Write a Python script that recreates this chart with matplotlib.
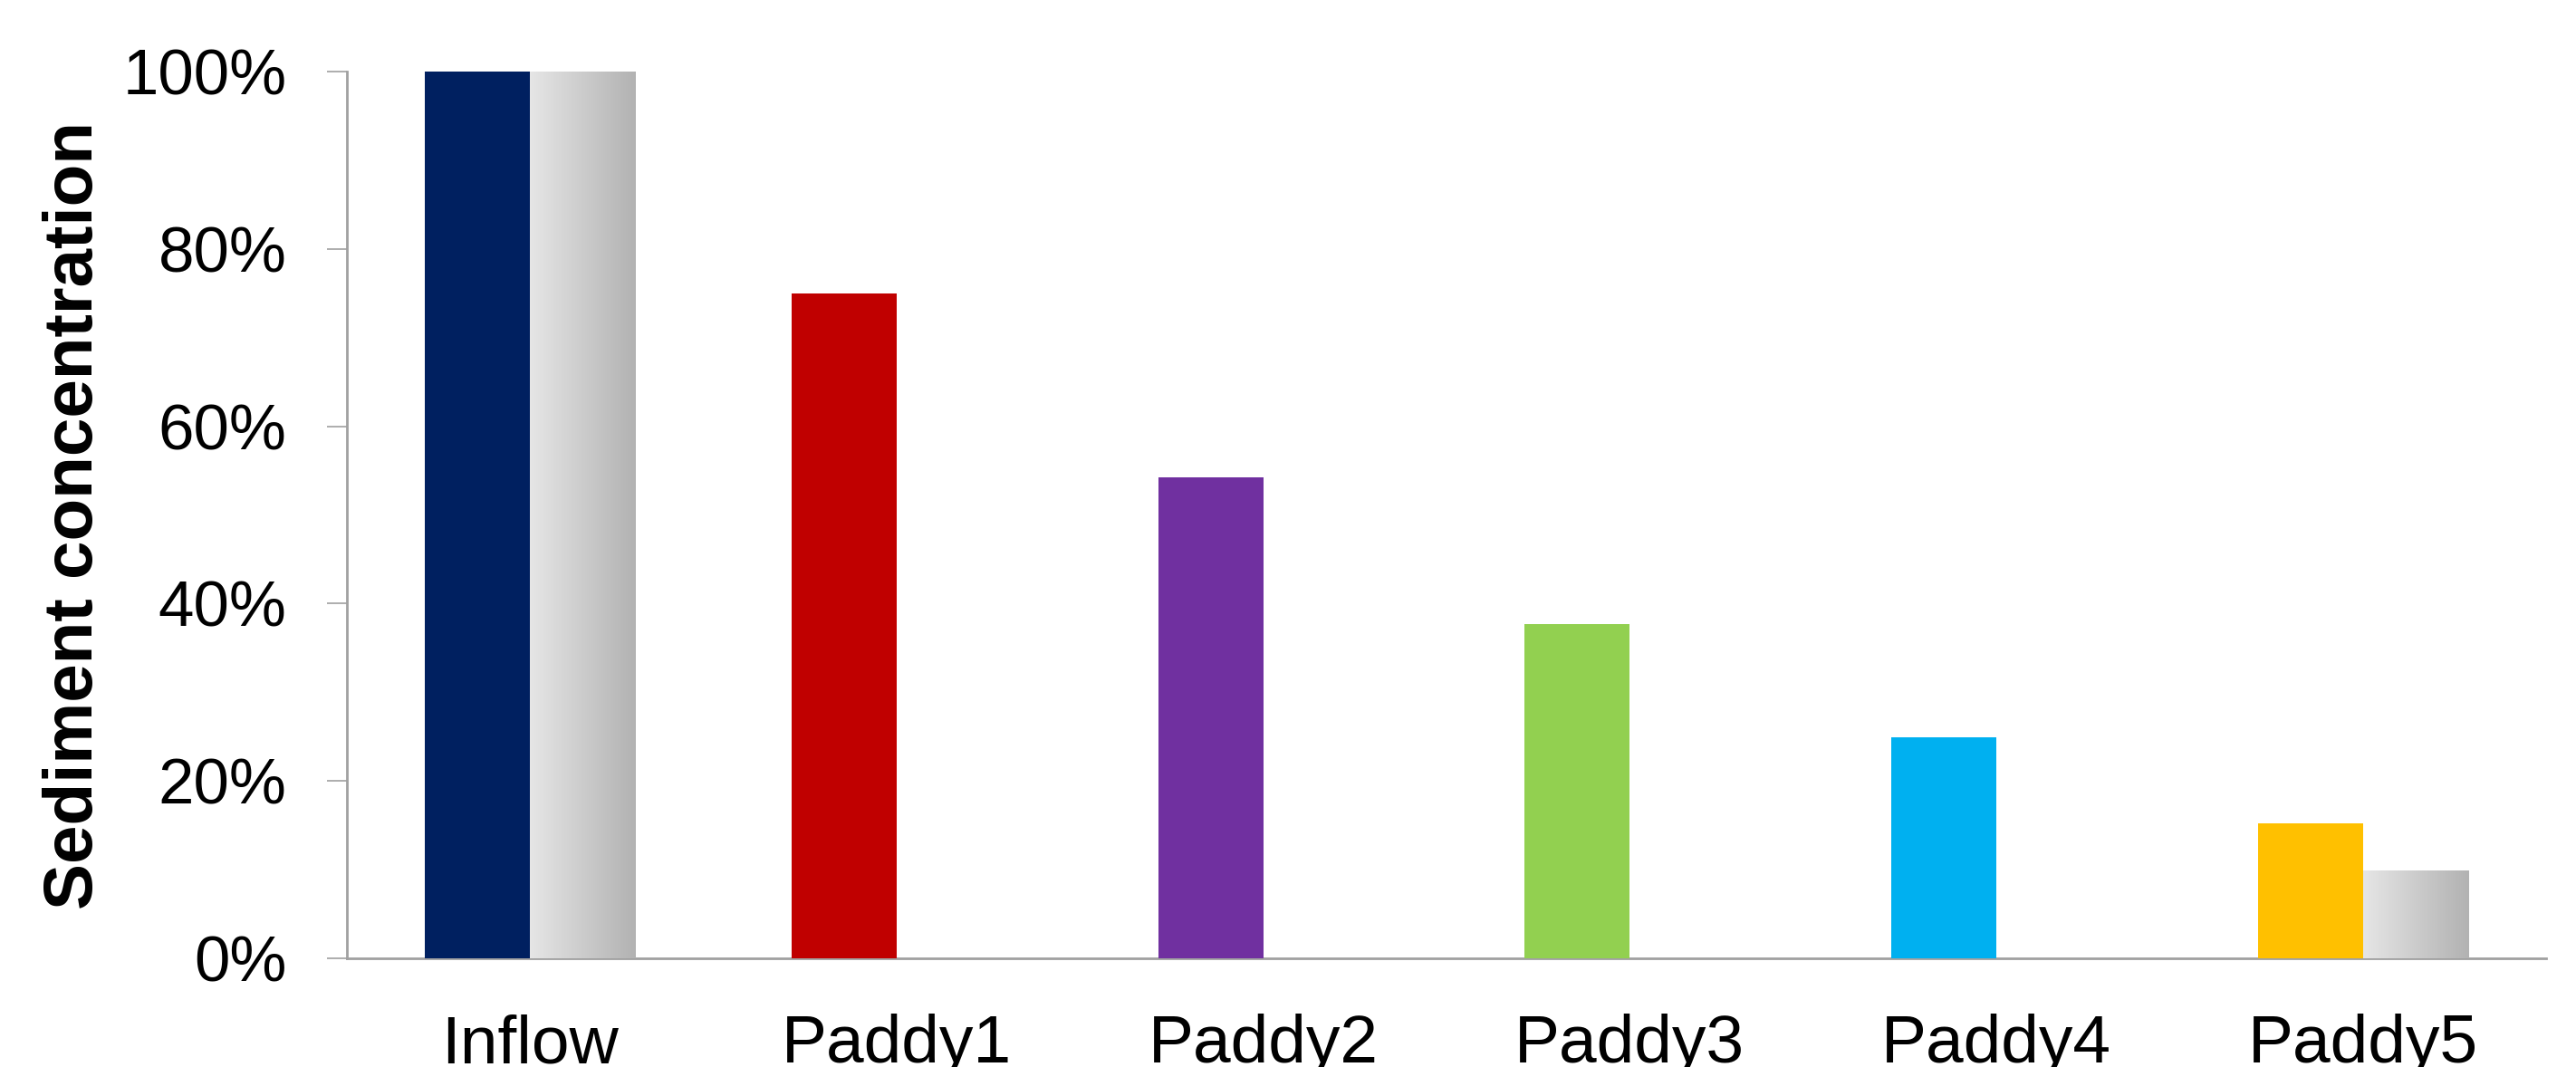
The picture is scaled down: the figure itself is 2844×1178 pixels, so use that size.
import numpy as np
import matplotlib.pyplot as plt
from matplotlib.colors import LinearSegmentedColormap
from matplotlib.ticker import PercentFormatter

plt.rcParams['font.family'] = ['Liberation Sans', 'DejaVu Sans']

categories = ["Inflow", "Paddy1", "Paddy2", "Paddy3", "Paddy4", "Paddy5"]
measured = [1.00, 0.75, 0.542, 0.377, 0.249, 0.152]
# second (grey) series only present for Inflow and Paddy5
reference = [1.00, np.nan, np.nan, np.nan, np.nan, 0.099]
bar_colors = ["#002060", "#C00000", "#7030A0", "#92D050", "#00B0F0", "#FFC000"]
yticks = [0, 0.2, 0.4, 0.6, 0.8, 1.0]


def gradient_bars(ax, bars):
    grey = LinearSegmentedColormap.from_list("grey", ["#E6E6E6", "#B2B2B2"])
    grad = np.linspace(0, 1, 256).reshape(1, -1)
    for p in bars:
        h = p.get_height()
        if np.isnan(h) or h == 0:
            continue
        x0 = p.get_x()
        ax.imshow(grad, cmap=grey, aspect='auto', zorder=3,
                  extent=(x0, x0 + p.get_width(), 0, h))


def main():
    fig = plt.figure(figsize=(28.44, 11.78), dpi=100)
    ax = fig.add_axes([0.1347, 0.1019, 0.8537, 0.8310])

    x = np.arange(len(categories))
    w = 0.287
    ax.bar(x - w / 2, measured, width=w, color=bar_colors, zorder=3)
    ref_bars = ax.bar(x + w / 2, reference, width=w, color="none", zorder=2)
    gradient_bars(ax, ref_bars)

    ax.set_xlim(-0.5, len(categories) - 0.5)
    ax.set_ylim(0, 1)
    ax.set_yticks(yticks)
    ax.yaxis.set_major_formatter(PercentFormatter(1.0, decimals=0))
    ax.set_xticks(x)
    ax.set_xticklabels(categories)

    for s in ["top", "right"]:
        ax.spines[s].set_visible(False)
    for s in ["left", "bottom"]:
        ax.spines[s].set_color("#A0A0A0")
        ax.spines[s].set_linewidth(2)
    ax.tick_params(axis='y', length=16, width=1.2, color="#A0A0A0",
                   labelsize=51, pad=32)
    ax.tick_params(axis='x', length=0, labelsize=54, pad=44)

    ax.set_ylabel("Sediment concentration", fontsize=55, fontweight='bold')
    ax.yaxis.set_label_coords(-0.109, 0.5)

    fig.savefig("out.png", dpi=100)


if __name__ == "__main__":
    main()
